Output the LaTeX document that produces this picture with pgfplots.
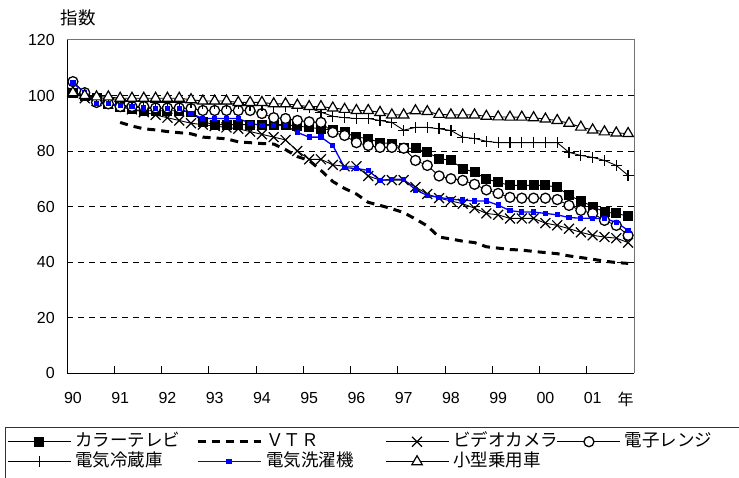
\documentclass[border=0pt]{standalone}
\usepackage{fontspec}
\setmainfont{Liberation Sans}
\newfontfamily\jp{Noto Sans CJK JP}
\usepackage{pgfplots}
\usepackage{pgfplotstable}
\pgfplotsset{compat=1.18}
\pgfplotstableread{
i tv vtr vc mw fr wm car
0 101 nan 101 105 101 104.5 101
1 100 nan 99 101 100 101 100
2 99 nan 98 97.5 99 97 99.5
3 97 nan 97 97 99 97 99.5
4 96 90.3 96 96 98.5 96.5 99
5 95 89 95 96 98 96 99
6 94.5 88 94 96 98 95.5 99
7 94.5 87.6 93 95.5 97.5 95.3 99
8 94.5 87 92 95.5 97.5 95.3 99
9 94.5 86.6 91 95.5 97.5 95.3 99
10 94 86.2 90 95.3 97.5 93.5 98.5
11 90.5 85 89.5 94.6 97 91.7 98
12 89.5 84.7 89 94.6 97 91.7 98
13 89.5 84.4 88.5 94.6 97 91.7 98
14 89.5 83.3 88 94.6 97 91.7 97.5
15 89.5 83 87 94.6 96.5 90 97.5
16 89.5 82.7 86 93.5 96.5 89.2 97.5
17 89.5 82.5 85 92 96 89.2 97
18 89.5 80.5 84 91.7 96 89.2 97
19 89 78 80 91 96 86.7 96.5
20 88.5 76.6 77 90.5 95.5 85 96
21 88 73 77 90.3 94 85 96
22 87.5 69 75 86.7 92.5 82 95.5
23 86.7 66.5 74.5 85.6 92 74 95
24 85 64.5 74.5 83 91.7 73.7 94.6
25 84.5 61.5 71 82 91.7 73 94.6
26 83 60.4 69.5 81.3 91 69.4 93.9
27 82.7 59.2 69.5 81.3 90.3 69.8 93
28 81 57.8 69.5 81 87.5 69.8 93
29 81 55.5 67 76.6 88.5 66 94.5
30 79.5 53 64.5 74.8 88.5 64 94.2
31 77.3 49 63 71 88 63.3 93.2
32 76.6 48.3 62 70 87.4 62.6 93
33 73.7 47.5 61 69.4 85 62.3 93
34 72.3 47 59.4 68 84.5 62 93
35 70 45.5 57.5 66 83.5 62 92.5
36 68.7 45 57 64.7 83 60.5 92.3
37 67.6 44.5 55.7 63.3 83 58.5 92.2
38 67.6 44.3 55.7 63 83 58 92.2
39 67.6 43.8 55.7 63 83 58 92
40 67.6 43.4 54 63 83 57.5 91.5
41 67 43 53.2 62.5 83 57 91
42 64 42.2 52 60.4 79.5 56 90
43 62 41.6 50.7 58.6 78.4 55.8 88.6
44 60 41 49.6 57.5 77.7 55.7 87.6
45 58 40.3 49 55 76.6 55.7 86.9
46 57.5 39.8 48.6 53.2 74.8 54.3 86.5
47 56.5 39.5 47 49.6 71.2 51.4 86.3
}\data

\begin{document}
\begin{tikzpicture}[x=1pt,y=1pt]
\path[use as bounding box] (0,0) rectangle (739,477);
\begin{axis}[
  at={(67pt,104pt)}, anchor=south west,
  scale only axis, width=567pt, height=333pt,
  xmin=-0.5, xmax=47.5, ymin=0, ymax=120,
  axis lines*=left,
  axis line style={-, black, line width=1pt},
  x axis line style={-}, y axis line style={-},
  tick align=inside,
  xtick={3.5,7.5,...,43.5}, xticklabels={},
  xtick style={black, line width=0.8pt},
  major tick length=7pt,
  extra x ticks={0,4,8,12,16,20,24,28,32,36,40,44,46.8},
  extra x tick labels={90,91,92,93,94,95,96,97,98,99,00,01,{\jp 年}},
  extra x tick style={major tick length=0pt},
  ytick={0,20,...,120},
  ytick style={draw=none},
  extra y ticks={20,40,60,80,100},
  extra y tick labels={},
  extra y tick style={grid=major, major tick length=0pt},
  grid style={black, line width=0.6pt, dash pattern=on 6pt off 5pt},
  tick label style={font=\fontsize{16}{19}\selectfont},
  /pgf/number format/assume math mode=true,
  xticklabel style={yshift=-15.7pt},
  yticklabel style={xshift=-8.7pt},
  clip=false,
  legend columns=4,
  legend cell align=left,
  legend style={at={(-0.10935,-0.1697)}, anchor=north west, draw=none, fill=none,
    inner xsep=2pt, inner ysep=2pt, column sep=4pt, row sep=0pt,
    font=\jp\fontsize{17.5}{20}\selectfont,
    nodes={inner sep=0pt, text height=15pt, text depth=5pt}},
  legend image code/.code={\draw[mark repeat=2,mark phase=2,#1] plot coordinates {(0pt,0pt) (31.5pt,0pt) (63pt,0pt)};},
]
\addplot[black, line width=0.9pt, mark=square*, mark size=4.5pt, mark options={solid, fill=black}] table[x=i,y=tv]{\data};
\addlegendentry{\makebox[117pt][l]{カラーテレビ}}
\addplot[black, line width=3pt, dash pattern=on 8pt off 6pt, no markers] table[x=i,y=vtr]{\data};
\addlegendentry{\makebox[115pt][l]{ＶＴＲ}}
\addplot[black, line width=0.9pt, mark=x, mark size=7pt, mark options={solid, line width=1.2pt}] table[x=i,y=vc]{\data};
\addlegendentry{\makebox[100pt][l]{ビデオカメラ}}
\addplot[black, line width=0.9pt, mark=*, mark size=5pt, mark options={solid, fill=white, line width=1.3pt}] table[x=i,y=mw]{\data};
\addlegendentry{\makebox[125pt][l]{電子レンジ}}
\addplot[black, line width=0.9pt, mark=+, mark size=5.5pt, mark options={solid, line width=1.2pt}] table[x=i,y=fr]{\data};
\addlegendentry{\makebox[117pt][l]{電気冷蔵庫}}
\addplot[blue, line width=1.3pt, mark=square*, mark size=2pt, mark options={solid, fill=blue}] table[x=i,y=wm]{\data};
\addlegendentry{\makebox[115pt][l]{電気洗濯機}}
\addplot[black, line width=0.9pt, mark=triangle*, mark size=6pt, mark options={solid, fill=white, line width=1.2pt}] table[x=i,y=car]{\data};
\addlegendentry{\makebox[100pt][l]{小型乗用車}}
\draw[black!55, line width=1pt] (rel axis cs:0,1) -- (rel axis cs:1,1) -- (rel axis cs:1,0);
\end{axis}
\draw[black!80, line width=0.8pt] (5,-20) rectangle (760,49.5);
\node[font=\jp\fontsize{17.5}{20}\selectfont] at (78,459.5) {指数};
\end{tikzpicture}
\end{document}
